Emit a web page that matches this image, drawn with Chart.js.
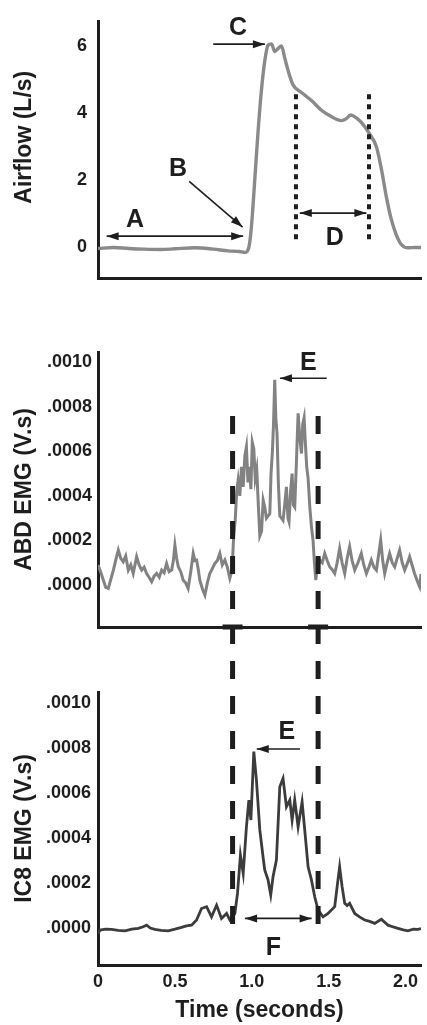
<!DOCTYPE html>
<html>
<head>
<meta charset="utf-8">
<script src="https://cdn.jsdelivr.net/npm/chart.js@4.4.1/dist/chart.umd.min.js"></script>
<style>
  body { margin: 0; background: #fff; }
  #wrap { position: relative; width: 427px; height: 1025px; }
  canvas { position: absolute; left: 0; }
</style>
</head>
<body>
<div id="wrap">
  <canvas id="airflow" width="427" height="300" style="top:0"></canvas>
  <canvas id="abd" width="427" height="360" style="top:300px"></canvas>
  <canvas id="ic8" width="427" height="365" style="top:660px"></canvas>
</div>
<script>
// time axis (seconds)
const timeTicks = [0, 0.5, 1.0, 1.5, 2.0];
const timeTickLabels = ['0', '0.5', '1.0', '1.5', '2.0'];

// airflow (L/s)
const airflowTicks = [0, 2, 4, 6];
const airflowTickLabels = ['0', '2', '4', '6'];
const airflowTime = [0, 0.1, 0.2, 0.3, 0.41, 0.5, 0.63, 0.75, 0.846, 0.92, 0.955, 0.98, 0.998, 1.02, 1.041, 1.063,
  1.084, 1.106, 1.128, 1.149, 1.171, 1.193, 1.214, 1.236, 1.268, 1.323, 1.388, 1.453, 1.517, 1.582, 1.615, 1.643,
  1.68, 1.723, 1.766, 1.81, 1.842, 1.875, 1.907, 1.94, 1.972, 2.015, 2.06, 2.1];
const airflowValues = [-0.05, -0.02, -0.05, -0.07, -0.08, -0.06, -0.03, -0.07, -0.12, -0.14, -0.17, -0.03, 0.63, 2.06, 3.48, 4.71,
  5.56, 6.04, 6.08, 5.85, 5.94, 6.02, 5.66, 5.28, 4.85, 4.62, 4.38, 4.09, 3.9, 3.78, 3.84, 3.95,
  3.86, 3.67, 3.38, 3.0, 2.34, 1.49, 0.82, 0.35, 0.07, -0.03, -0.02, -0.02];

// EMG (V.s)
const emgTicks = [0, 0.0002, 0.0004, 0.0006, 0.0008, 0.0010];
const emgTickLabels = ['.0000', '.0002', '.0004', '.0006', '.0008', '.0010'];

const abdTime = [0, 0.013, 0.035, 0.05, 0.067, 0.085, 0.1, 0.118, 0.132, 0.148, 0.164, 0.18, 0.197, 0.213, 0.229, 0.251,
  0.267, 0.284, 0.3, 0.316, 0.332, 0.349, 0.365, 0.381, 0.398, 0.414, 0.43, 0.446, 0.462, 0.479, 0.49, 0.5,
  0.511, 0.522, 0.538, 0.554, 0.57, 0.586, 0.603, 0.619, 0.63, 0.641, 0.652, 0.662, 0.68, 0.695, 0.711, 0.727,
  0.744, 0.76, 0.776, 0.792, 0.808, 0.825, 0.841, 0.857, 0.872, 0.882, 0.892, 0.902, 0.911, 0.922, 0.933, 0.944,
  0.955, 0.965, 0.975, 0.985, 0.994, 1.003, 1.013, 1.022, 1.032, 1.041, 1.052, 1.063, 1.074, 1.084, 1.095, 1.106,
  1.117, 1.125, 1.134, 1.141, 1.149, 1.156, 1.164, 1.173, 1.182, 1.193, 1.203, 1.214, 1.225, 1.235, 1.242, 1.252,
  1.262, 1.27, 1.279, 1.29, 1.301, 1.312, 1.323, 1.331, 1.34, 1.348, 1.357, 1.366, 1.377, 1.388, 1.398, 1.407,
  1.416, 1.425, 1.435, 1.442, 1.458, 1.474, 1.49, 1.506, 1.522, 1.539, 1.555, 1.571, 1.587, 1.604, 1.62, 1.636,
  1.652, 1.669, 1.69, 1.712, 1.728, 1.745, 1.761, 1.777, 1.794, 1.81, 1.838, 1.851, 1.864, 1.88, 1.896, 1.913,
  1.929, 1.945, 1.961, 1.978, 1.994, 2.01, 2.026, 2.042, 2.058, 2.075, 2.091, 2.1];
const abdValues = [0.90e-4, 0.67e-4, 0.22e-4, -0.10e-4, -0.15e-4, 0.30e-4, 0.67e-4, 1.20e-4, 1.57e-4, 1.20e-4, 1.05e-4, 1.30e-4, 0.67e-4, 0.90e-4, 0.52e-4, 1.27e-4,
  0.90e-4, 0.67e-4, 0.80e-4, 0.52e-4, 0.35e-4, 0.15e-4, 0.40e-4, 0.52e-4, 0.35e-4, 0.67e-4, 0.55e-4, 0.97e-4, 0.60e-4, 0.67e-4, 1.10e-4, 1.79e-4,
  1.20e-4, 0.82e-4, 0.60e-4, 0.22e-4, 0.10e-4, -0.15e-4, 0.60e-4, 1.42e-4, 1.10e-4, 1.12e-4, 0.70e-4, 0.22e-4, -0.20e-4, -0.45e-4, 0.10e-4, 0.52e-4,
  0.75e-4, 0.97e-4, 1.10e-4, 1.42e-4, 0.90e-4, 1.12e-4, 0.80e-4, 0.30e-4, 0.67e-4, 2.20e-4, 2.90e-4, 4.20e-4, 4.70e-4, 4.00e-4, 5.30e-4, 4.40e-4,
  5.80e-4, 6.20e-4, 4.60e-4, 5.30e-4, 4.30e-4, 6.40e-4, 6.10e-4, 4.80e-4, 5.20e-4, 3.80e-4, 2.20e-4, 2.40e-4, 3.80e-4, 3.50e-4, 3.00e-4, 3.10e-4,
  3.20e-4, 5.00e-4, 6.00e-4, 7.20e-4, 9.20e-4, 7.50e-4, 6.80e-4, 4.50e-4, 3.10e-4, 3.00e-4, 2.90e-4, 3.60e-4, 4.40e-4, 3.00e-4, 2.84e-4, 4.20e-4,
  5.00e-4, 3.60e-4, 3.50e-4, 5.50e-4, 7.70e-4, 6.60e-4, 5.90e-4, 7.20e-4, 7.50e-4, 6.40e-4, 5.30e-4, 4.80e-4, 3.50e-4, 2.60e-4, 2.02e-4, 1.00e-4,
  0.22e-4, 0.80e-4, 0.95e-4, 1.12e-4, 1.00e-4, 1.42e-4, 1.10e-4, 0.82e-4, 0.70e-4, 0.52e-4, 1.00e-4, 1.64e-4, 1.00e-4, 0.52e-4, 1.20e-4, 1.72e-4,
  1.10e-4, 0.67e-4, 1.00e-4, 1.42e-4, 0.90e-4, 0.52e-4, 0.80e-4, 1.12e-4, 0.80e-4, 0.67e-4, 2.02e-4, 1.10e-4, 0.52e-4, 1.00e-4, 1.42e-4, 1.00e-4,
  0.82e-4, 1.20e-4, 1.57e-4, 1.00e-4, 0.67e-4, 0.95e-4, 1.27e-4, 0.90e-4, 0.52e-4, 0.20e-4, -0.07e-4, 0.50e-4];

const ic8Time = [0, 0.013, 0.05, 0.089, 0.13, 0.175, 0.22, 0.262, 0.29, 0.316, 0.34, 0.37, 0.41, 0.457, 0.5, 0.543,
  0.575, 0.608, 0.641, 0.673, 0.706, 0.738, 0.771, 0.803, 0.836, 0.857, 0.875, 0.89, 0.907, 0.926, 0.944, 0.965,
  0.981, 0.994, 1.013, 1.03, 1.052, 1.073, 1.084, 1.106, 1.123, 1.138, 1.16, 1.182, 1.203, 1.225, 1.247, 1.262,
  1.279, 1.301, 1.327, 1.344, 1.366, 1.388, 1.409, 1.431, 1.463, 1.496, 1.539, 1.56, 1.571, 1.587, 1.604, 1.62,
  1.636, 1.669, 1.7, 1.734, 1.766, 1.799, 1.842, 1.885, 1.92, 1.95, 1.985, 2.015, 2.05, 2.08, 2.1];
const ic8Values = [-0.25e-4, -0.09e-4, -0.05e-4, -0.06e-4, -0.10e-4, -0.12e-4, -0.05e-4, -0.01e-4, 0.05e-4, 0.13e-4, 0.00e-4, -0.06e-4, -0.10e-4, -0.12e-4, -0.05e-4, 0.03e-4,
  0.10e-4, 0.13e-4, 0.36e-4, 0.87e-4, 0.95e-4, 0.50e-4, 1.02e-4, 0.43e-4, 0.65e-4, 0.36e-4, 0.50e-4, 0.65e-4, 1.54e-4, 3.24e-4, 2.43e-4, 4.50e-4,
  5.69e-4, 4.80e-4, 7.84e-4, 6.58e-4, 4.36e-4, 3.17e-4, 2.58e-4, 2.13e-4, 1.47e-4, 2.28e-4, 3.02e-4, 6.28e-4, 6.65e-4, 5.39e-4, 5.69e-4, 4.80e-4,
  5.69e-4, 4.50e-4, 5.61e-4, 4.36e-4, 2.72e-4, 2.13e-4, 1.39e-4, 0.80e-4, 0.50e-4, 0.65e-4, 0.95e-4, 2.13e-4, 2.72e-4, 1.84e-4, 1.10e-4, 1.00e-4,
  1.10e-4, 0.65e-4, 0.50e-4, 0.36e-4, 0.30e-4, 0.21e-4, 0.39e-4, 0.13e-4, 0.05e-4, -0.01e-4, -0.08e-4, -0.12e-4, -0.05e-4, -0.06e-4, -0.02e-4];

const FONT = '"Liberation Sans", Arial, Helvetica, sans-serif';
const INK = '#1e1e1e';
let dashCarry = 0; // dashed lines continue from the ABD panel into the IC8 panel

function toPoints(xs, ys) {
  return xs.map((x, i) => ({ x: x, y: ys[i] }));
}

function drawArrow(ctx, x1, y1, x2, y2, headStart, headEnd) {
  ctx.beginPath();
  ctx.moveTo(x1, y1);
  ctx.lineTo(x2, y2);
  ctx.stroke();
  const head = (xa, ya, xb, yb) => {
    const a = Math.atan2(yb - ya, xb - xa);
    const len = 12, half = 4;
    ctx.beginPath();
    ctx.moveTo(xb, yb);
    ctx.lineTo(xb - len * Math.cos(a) + half * Math.sin(a), yb - len * Math.sin(a) - half * Math.cos(a));
    ctx.lineTo(xb - len * Math.cos(a) - half * Math.sin(a), yb - len * Math.sin(a) + half * Math.cos(a));
    ctx.closePath();
    ctx.fill();
  };
  if (headEnd) head(x1, y1, x2, y2);
  if (headStart) head(x2, y2, x1, y1);
}

function marksPlugin(marks) {
  return {
    id: 'marks',
    afterDraw(chart) {
      const ctx = chart.ctx;
      const xs = chart.scales.x, ys = chart.scales.y;
      ctx.save();
      (marks.vlines || []).forEach(l => {
        const px = xs.getPixelForValue(l.x);
        const top = l.from === 'top' ? 0 : ys.getPixelForValue(l.from);
        const bot = l.to === 'bottom' ? chart.height : ys.getPixelForValue(l.to);
        ctx.strokeStyle = INK;
        if (l.kind === 'dash') {
          ctx.lineWidth = 5;
          ctx.setLineDash([18, 17]);
          ctx.lineDashOffset = l.from === 'top' ? dashCarry : 0;
          if (l.to === 'bottom') dashCarry = bot - top;
        } else {
          ctx.lineWidth = 4;
          ctx.setLineDash([5, 5]);
          ctx.lineDashOffset = 0;
        }
        ctx.beginPath();
        ctx.moveTo(px, top);
        ctx.lineTo(px, bot);
        ctx.stroke();
      });
      ctx.setLineDash([]);
      ctx.fillStyle = INK;
      (marks.axisBlocks || []).forEach(v => {
        const px = xs.getPixelForValue(v);
        ctx.fillRect(px - 10, chart.chartArea.bottom - 2.5, 20, 5);
      });
      ctx.strokeStyle = INK;
      ctx.lineWidth = 1.6;
      (marks.arrows || []).forEach(a => {
        drawArrow(ctx, xs.getPixelForValue(a.x1), ys.getPixelForValue(a.y1),
          xs.getPixelForValue(a.x2), ys.getPixelForValue(a.y2), a.start, a.end);
      });
      ctx.font = 'bold 25px ' + FONT;
      ctx.textAlign = 'center';
      ctx.textBaseline = 'middle';
      (marks.letters || []).forEach(t => {
        ctx.fillText(t.text, xs.getPixelForValue(t.x), ys.getPixelForValue(t.y));
      });
      ctx.restore();
    }
  };
}

function panel(id, o) {
  return new Chart(document.getElementById(id), {
    type: 'line',
    data: {
      datasets: [{
        data: toPoints(o.xs, o.ys),
        borderColor: o.color,
        borderWidth: o.width,
        pointRadius: 0,
        tension: o.tension,
        cubicInterpolationMode: o.tension ? 'monotone' : 'default',
        fill: false
      }]
    },
    options: {
      responsive: false,
      animation: false,
      events: [],
      layout: { padding: { top: o.padTop, right: 6, left: 0, bottom: 0 } },
      plugins: { legend: { display: false }, tooltip: { enabled: false } },
      scales: {
        x: {
          type: 'linear',
          min: 0,
          max: 2.1,
          grid: { display: false, drawTicks: false },
          border: { display: true, color: INK, width: 3 },
          afterBuildTicks: s => { s.ticks = timeTicks.map(v => ({ value: v })); },
          ticks: o.showTime ? {
            autoSkip: false, maxRotation: 0, padding: 6, color: INK,
            font: { family: FONT, size: 18, weight: 'bold' },
            callback: (v, i) => timeTickLabels[i]
          } : { display: false },
          title: o.showTime ? {
            display: true, text: 'Time (seconds)', color: INK,
            font: { family: FONT, size: 23, weight: 'bold' },
            padding: { top: 0, bottom: 1 }
          } : { display: false },
          afterFit: s => { s.height = o.xHeight; }
        },
        y: {
          min: o.yMin,
          max: o.yMax,
          grid: { display: false, drawTicks: false },
          border: { display: true, color: INK, width: 3 },
          afterBuildTicks: s => { s.ticks = o.yTicks.map(v => ({ value: v })); },
          ticks: {
            padding: o.tickPad, color: INK,
            font: { family: FONT, size: 18, weight: 'bold' },
            callback: (v, i) => o.yLabels[i]
          },
          title: {
            display: true, text: o.title, color: INK,
            font: { family: FONT, size: 23, weight: 'bold' },
            padding: { top: 11, bottom: 0 }
          },
          afterFit: s => { s.width = 98; }
        }
      }
    },
    plugins: [marksPlugin(o.marks)]
  });
}

panel('airflow', {
  xs: airflowTime, ys: airflowValues, color: '#8a8a8a', width: 3.4, tension: 0.3,
  padTop: 17, xHeight: 13, showTime: false,
  yMin: -0.94, yMax: 6.74, yTicks: airflowTicks, yLabels: airflowTickLabels, tickPad: 11,
  // leading spaces lift the rotated title a little, as in the original figure
  title: '    Airflow (L/s)',
  marks: {
    vlines: [
      { x: 1.287, from: 4.57, to: 0.16, kind: 'dot' },
      { x: 1.762, from: 4.57, to: 0.16, kind: 'dot' }
    ],
    arrows: [
      { x1: 0.056, y1: 0.32, x2: 0.944, y2: 0.32, start: true, end: true },
      { x1: 0.593, y1: 1.96, x2: 0.94, y2: 0.59, start: false, end: true },
      { x1: 0.749, y1: 6.07, x2: 1.085, y2: 6.07, start: false, end: true },
      { x1: 1.312, y1: 1.01, x2: 1.745, y2: 1.01, start: true, end: true }
    ],
    letters: [
      { text: 'A', x: 0.24, y: 0.8 },
      { text: 'B', x: 0.52, y: 2.32 },
      { text: 'C', x: 0.91, y: 6.55 },
      { text: 'D', x: 1.54, y: 0.26 }
    ]
  }
});

panel('abd', {
  xs: abdTime, ys: abdValues, color: '#828282', width: 3, tension: 0,
  padTop: 52, xHeight: 33, showTime: false,
  yMin: -0.000188, yMax: 0.001045, yTicks: emgTicks, yLabels: emgTickLabels, tickPad: 6,
  title: 'ABD EMG (V.s)',
  marks: {
    vlines: [
      { x: 0.875, from: 0.000758, to: 'bottom', kind: 'dash' },
      { x: 1.431, from: 0.000758, to: 'bottom', kind: 'dash' }
    ],
    axisBlocks: [0.875, 1.431],
    arrows: [
      { x1: 1.487, y1: 0.000927, x2: 1.183, y2: 0.000927, start: false, end: true }
    ],
    letters: [
      { text: 'E', x: 1.367, y: 0.000994 }
    ]
  }
});

panel('ic8', {
  xs: ic8Time, ys: ic8Values, color: '#3c3c3c', width: 2.8, tension: 0,
  padTop: 32, xHeight: 60, showTime: true,
  yMin: -0.000164, yMax: 0.001049, yTicks: emgTicks, yLabels: emgTickLabels, tickPad: 7,
  title: 'IC8 EMG (V.s)',
  marks: {
    vlines: [
      { x: 0.875, from: 'top', to: 0, kind: 'dash' },
      { x: 1.431, from: 'top', to: 0, kind: 'dash' }
    ],
    arrows: [
      { x1: 1.313, y1: 0.000796, x2: 1.032, y2: 0.000796, start: false, end: true },
      { x1: 0.956, y1: 0.000043, x2: 1.389, y2: 0.000043, start: true, end: true }
    ],
    letters: [
      { text: 'E', x: 1.227, y: 0.000872 },
      { text: 'F', x: 1.14, y: -0.00009 }
    ]
  }
});
</script>
</body>
</html>
